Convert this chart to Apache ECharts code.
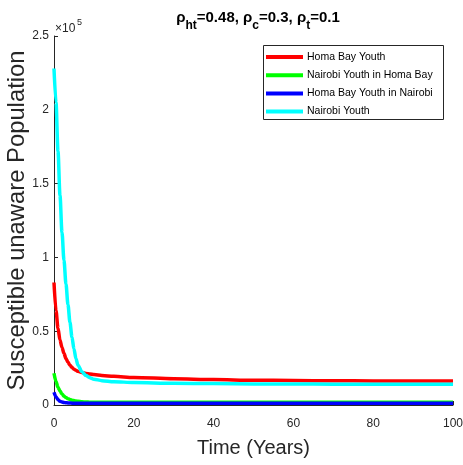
<!DOCTYPE html>
<html><head><meta charset="utf-8">
<script src="https://cdn.jsdelivr.net/npm/echarts@6/dist/echarts.min.js"></script>
<style>html,body{margin:0;padding:0;background:#fff}#c{width:463px;height:465px}</style>
</head><body><div id="c"></div>
<script>
const years = [0,0.5,1,1.5,2,2.5,3,3.5,4,4.5,5,5.5,6,7,8,9,10,12,15,20,30,40,50,60,70,80,90,100];
const homaBayYouth = [83000,64000,52000,44000,39000,35000,31500,29000,27000,25500,24300,23500,22800,22000,21400,21000,20600,20000,19400,18700,17800,17200,16800,16600,16400,16300,16200,16200];
const nairobiInHomaBay = [21500,16000,12000,9500,7500,6000,5000,4300,3700,3300,3000,2700,2500,2200,2000,1900,1900,1800,1800,1800,1800,1800,1800,1800,1800,1800,1800,1800];
const homaBayInNairobi = [8600,5500,3600,2600,2000,1700,1500,1400,1300,1250,1200,1200,1200,1200,1200,1200,1200,1200,1200,1200,1200,1200,1200,1200,1200,1200,1200,1200];
const nairobiYouth = [228000,205000,172000,142000,117000,98000,82000,68000,56000,46000,38000,31500,27000,22500,20000,18500,17500,16500,15800,15200,14700,14500,14300,14200,14100,14000,14000,14000];
const seriesNames = ['Homa Bay Youth','Nairobi Youth in Homa Bay','Homa Bay Youth in Nairobi','Nairobi Youth'];
const seriesColors = ['#ff0000','#00ff00','#0000ff','#00ffff'];
const seriesData = [homaBayYouth, nairobiInHomaBay, homaBayInNairobi, nairobiYouth];
const xTicks = {min:0, max:100, interval:20};
const yTicks = {min:0, max:250000, interval:50000, scale:100000};

const chart = echarts.init(document.getElementById('c'), null, {renderer:'canvas'});
const font = 'Liberation Sans, Arial, Helvetica, sans-serif';
const axisColor = '#262626';
chart.setOption({
  animation:false,
  backgroundColor:'#fff',
  title:{
    text:'{r|ρ}{s|ht}{r|=0.48, }{r|ρ}{s|c}{r|=0.3, }{r|ρ}{s|t}{r|=0.1}',
    left:253, top:0, textAlign:'center',
    textStyle:{rich:{
      r:{fontFamily:font,fontSize:15,fontWeight:'bold',color:'#000',verticalAlign:'bottom',lineHeight:20},
      s:{fontFamily:font,fontSize:12,fontWeight:'bold',color:'#000',verticalAlign:'bottom',lineHeight:14,padding:[0,0,-7,0]}
    }}
  },
  grid:{left:54,right:10,top:36,bottom:60,containLabel:false,outerBoundsMode:'none'},
  legend:{
    orient:'vertical', left:266, top:51, itemGap:6.2, itemWidth:37, itemHeight:4, padding:0,
    icon:'rect', data:seriesNames,
    textStyle:{fontFamily:font,fontSize:10.5,lineHeight:12,color:'#000',padding:[0,0,0,-1]}
  },
  graphic:[
    {type:'rect',shape:{x:263.5,y:45.5,width:180,height:74},style:{fill:'#fff',stroke:'#262626',lineWidth:1},z:0,silent:true},
    {type:'text',left:55,top:23,style:{text:'×10',font:'12px '+font,fill:axisColor}},
    {type:'text',left:77,top:18,style:{text:'5',font:'9px '+font,fill:axisColor}}
  ],
  xAxis:{
    type:'value', min:xTicks.min, max:xTicks.max, interval:xTicks.interval,
    name:'Time (Years)', nameLocation:'middle', nameGap:33, nameMoveOverlap:false,
    nameTextStyle:{fontFamily:font,fontSize:20,color:axisColor},
    axisLine:{show:true,lineStyle:{color:axisColor,width:1}},
    axisTick:{show:true,inside:true,length:4,lineStyle:{color:axisColor}},
    axisLabel:{fontFamily:font,fontSize:12,color:axisColor,margin:13},
    splitLine:{show:false}
  },
  yAxis:{
    type:'value', min:yTicks.min, max:yTicks.max, interval:yTicks.interval,
    name:'Susceptible unaware Population', nameLocation:'middle', nameGap:25, nameMoveOverlap:false,
    nameTextStyle:{fontFamily:font,fontSize:23.8,color:axisColor},
    axisLine:{show:true,lineStyle:{color:axisColor,width:1}},
    axisTick:{show:true,inside:true,length:4,lineStyle:{color:axisColor}},
    axisLabel:{fontFamily:font,fontSize:12,color:axisColor,margin:5,formatter:v=>String(v/yTicks.scale)},
    splitLine:{show:false}
  },
  series: seriesData.map((d,i)=>({
    name:seriesNames[i], type:'line', showSymbol:false, smooth:0.3, smoothMonotone:'x',
    data: years.map((t,j)=>[t,d[j]]),
    lineStyle:{color:seriesColors[i],width:3.5}, itemStyle:{color:seriesColors[i]},
    z: 2+i
  }))
});
</script></body></html>
